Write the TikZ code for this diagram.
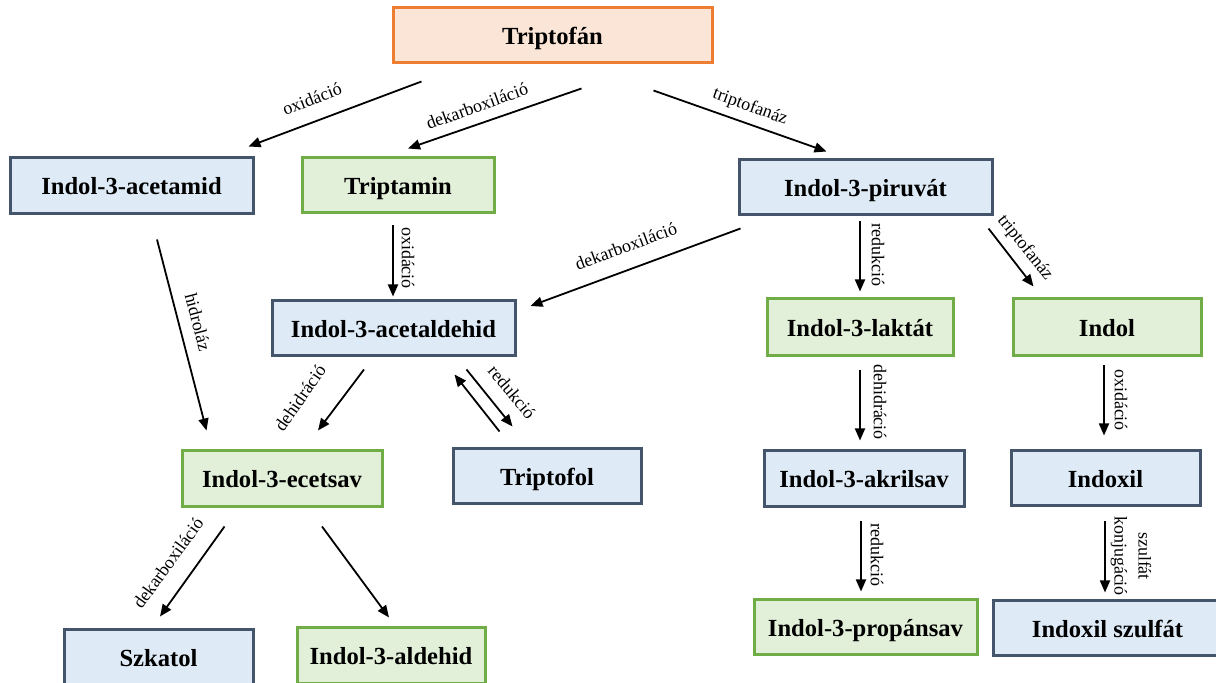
\documentclass[tikz,border=0pt]{standalone}
\usepackage{fontspec}
\setmainfont{Liberation Serif}
\usetikzlibrary{arrows.meta}
\definecolor{bluefill}{HTML}{DEEBF7}
\definecolor{blueline}{HTML}{44546A}
\definecolor{greenfill}{HTML}{E2F0D9}
\definecolor{greenline}{HTML}{70AD47}
\definecolor{orangefill}{HTML}{FBE5D6}
\definecolor{orangeline}{HTML}{ED7D31}
\tikzset{
  box/.style={draw, line width=1.5pt, inner sep=0pt, text height=9pt, text depth=0pt, font=\bfseries\fontsize{12.3}{14}\selectfont},
  bluebox/.style={box, draw=blueline, fill=bluefill},
  greenbox/.style={box, draw=greenline, fill=greenfill},
  orangebox/.style={box, draw=orangeline, fill=orangefill},
  arr/.style={line width=0.9pt, -{Triangle[length=6pt,width=5pt]}},
  lbl/.style={inner sep=0pt, font=\fontsize{9}{12}\selectfont, align=center}
}
\begin{document}
\begin{tikzpicture}[x=0.5pt,y=-0.5pt]
\useasboundingbox (0,0) rectangle (1216,683);
% nodes
\node[orangebox, minimum width=159.5pt, minimum height=27.5pt] (tri) at (552.5,35.5) {Triptofán};
\node[bluebox, minimum width=121.5pt, minimum height=28pt] (acm) at (131.5,186) {Indol-3-acetamid};
\node[greenbox, minimum width=96pt, minimum height=27.5pt] (tam) at (398,185.5) {Triptamin};
\node[bluebox, minimum width=126.5pt, minimum height=27.5pt] (pir) at (865.5,187.5) {Indol-3-piruvát};
\node[bluebox, minimum width=121.5pt, minimum height=27.5pt] (ald) at (393.5,328.5) {Indol-3-acetaldehid};
\node[greenbox, minimum width=93pt, minimum height=28.5pt] (lak) at (860,327.5) {Indol-3-laktát};
\node[greenbox, minimum width=94pt, minimum height=28.5pt] (ind) at (1107,327.5) {Indol};
\node[greenbox, minimum width=100pt, minimum height=28pt] (ece) at (282,479) {Indol-3-ecetsav};
\node[bluebox, minimum width=94pt, minimum height=27.5pt] (tfo) at (547,476.5) {Triptofol};
\node[bluebox, minimum width=100pt, minimum height=28pt] (akr) at (864,479) {Indol-3-akrilsav};
\node[bluebox, minimum width=94.5pt, minimum height=27.5pt] (idx) at (1105.5,478.5) {Indoxil};
\node[bluebox, minimum width=94.5pt, minimum height=28pt] (szk) at (158.5,658) {Szkatol};
\node[greenbox, minimum width=94pt, minimum height=28pt] (ald3) at (391,656) {Indol-3-aldehid};
\node[greenbox, minimum width=111.5pt, minimum height=27.5pt] (pro) at (865.5,627.5) {Indol-3-propánsav};
\node[bluebox, minimum width=114.5pt, minimum height=27.5pt] (sul) at (1107.5,628.5) {Indoxil szulfát};
% arrows
\draw[arr] ([shift={(30,17)}]tri.south west) -- ([shift={(-6,-10)}]acm.north east);
\draw[arr] ([shift={(190,24)}]tri.south west) -- ([shift={(10,-8)}]tam.north);
\draw[arr] ([shift={(-60,26)}]tri.south east) -- ([shift={(89,-7)}]pir.north west);
\draw[arr] ([shift={(-5,11)}]tam.south) -- ([shift={(-0.5,-3)}]ald.north);
\draw[arr] ([shift={(25.5,24)}]acm.south) -- ([shift={(26,-19)}]ece.north west);
\draw[arr] ([shift={(3,12)}]pir.south west) -- ([shift={(14,-22.5)}]ald.east);
\draw[arr] ([shift={(-5.5,5)}]pir.south) -- ([shift={(0,-6)}]lak.north);
\draw[arr] ([shift={(-5,12)}]pir.south east) -- ([shift={(22,-11)}]ind.north west);
\draw[arr] ([shift={(-29.5,12)}]ald.south) -- ([shift={(36,-19)}]ece.north);
\draw[arr] ([shift={(-50,12)}]ald.south east) -- ([shift={(61,-21)}]tfo.north west);
\draw[arr] ([shift={(48,-16)}]tfo.north west) -- ([shift={(-62,17)}]ald.south east);
\draw[arr] ([shift={(0,13)}]lak.south) -- ([shift={(-4,-9)}]akr.north);
\draw[arr] ([shift={(-3,8)}]ind.south) -- ([shift={(-1.5,-14)}]idx.north);
\draw[arr] ([shift={(44,18)}]ece.south west) -- ([shift={(1.5,-12)}]szk.north);
\draw[arr] ([shift={(40,18)}]ece.south) -- ([shift={(-2,-9)}]ald3.north);
\draw[arr] ([shift={(-3,13)}]akr.south) -- ([shift={(-4.5,-7)}]pro.north);
\draw[arr] ([shift={(-0.5,14)}]idx.south) -- ([shift={(-2.5,-7)}]sul.north);
% labels
\node[lbl, rotate=21.1] (l1) at (312,99) {oxidáció};
\node[lbl, rotate=19.8] (l2) at (477,106) {dekarboxiláció};
\node[lbl, rotate=-20] (l3) at (750,107) {triptofanáz};
\node[lbl, rotate=-90] (l4) at (408,258) {oxidáció};
\node[lbl, rotate=-75.3] (l5) at (198,322) {hidroláz};
\node[lbl, rotate=20.3] (l6) at (626,246) {dekarboxiláció};
\node[lbl, rotate=-90] (l7) at (878,255) {redukció};
\node[lbl, rotate=-51.3] (l8) at (1025,248) {triptofanáz};
\node[lbl, rotate=55] (l9) at (300,398) {dehidráció};
\node[lbl, rotate=-50] (l10) at (512,392) {redukció};
\node[lbl, rotate=-90] (l11) at (880,402) {dehidráció};
\node[lbl, rotate=-90] (l12) at (1121,400) {oxidáció};
\node[lbl, rotate=54] (l13) at (168,563) {dekarboxiláció};
\node[lbl, rotate=-90] (l14) at (877,555) {redukció};
\node[lbl, rotate=-90] (l15) at (1131,556) {szulfát\\konjugáció};
\end{tikzpicture}
\end{document}
